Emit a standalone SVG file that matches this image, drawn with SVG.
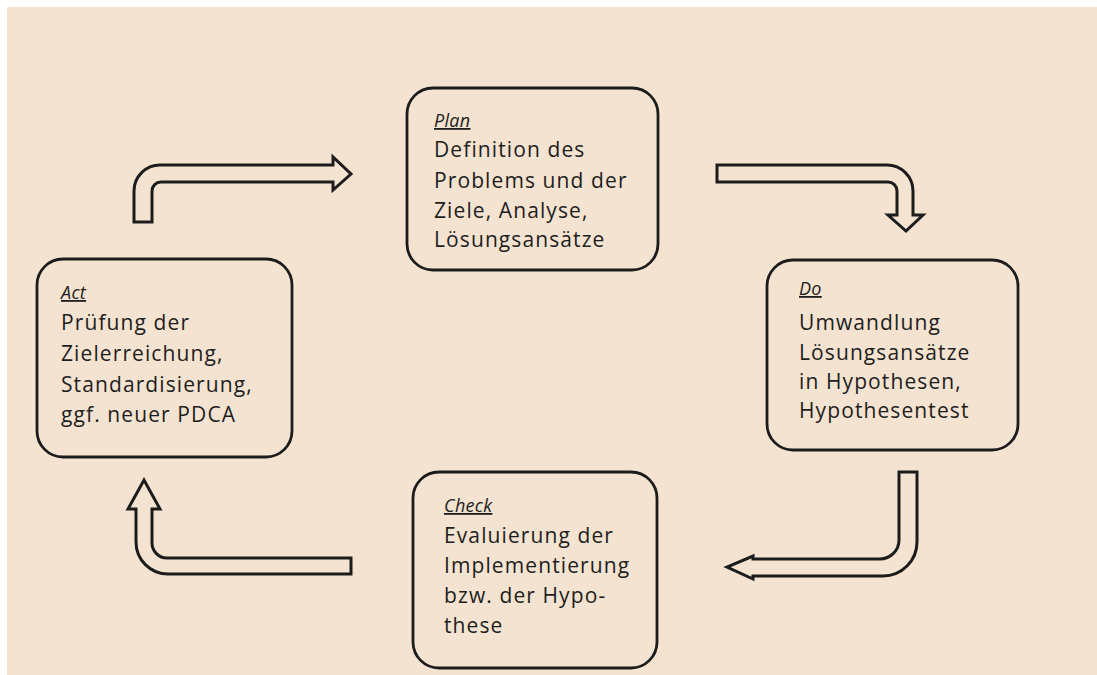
<svg xmlns="http://www.w3.org/2000/svg" width="1097" height="675" viewBox="0 0 1097 675">
<style>
.bg{fill:#f4e3d0}
.box{fill:#f4e3d0;stroke:#1c1c1c;stroke-width:2.8}
.arr{fill:#f4e3d0;stroke:#1c1c1c;stroke-width:3;stroke-linejoin:miter}
text{font-family:"Open Sans","Noto Sans",sans-serif;fill:#1e1e1e;font-size:21px;letter-spacing:1.1px}
.t{font-style:italic;font-size:18px;text-decoration:underline;letter-spacing:0.3px}
</style>
<rect width="1097" height="675" fill="#ffffff"/>
<rect class="bg" x="7" y="7" width="1090" height="668"/>
<g id="connectors">
<path class="arr" d="M134,222 V191 A26,26 0 0 1 160,165 H333 V157 L351,174 L333,190 V182 H161 A9,9 0 0 0 152,191 V222 Z"/>
<path class="arr" d="M717,165 H887 A26,26 0 0 1 913,191 V215 H923 L906,231 L888,215 H897 V191 A9,9 0 0 0 888,182 H717 Z"/>
<path class="arr" d="M899,472 H917 V542 A34,34 0 0 1 883,576 H753 V579 L727,567 L753,556 V559 H880 A19,19 0 0 0 899,540 Z"/>
<path class="arr" d="M351,558 V574 H168 A32,32 0 0 1 136,542 V509 H128 L144,480 L160,509 H152 V543 A15,15 0 0 0 167,558 Z"/>
</g>
<g id="plan">
<rect class="box" x="407" y="88" width="251" height="182" rx="26"/>
<text class="t" x="434" y="127">Plan</text>
<text x="434" y="157">Definition des</text>
<text x="434" y="188">Problems und der</text>
<text x="434" y="218">Ziele, Analyse,</text>
<text x="434" y="247">Lösungsansätze</text>
</g>
<g id="do">
<rect class="box" x="767" y="260" width="251" height="190" rx="26"/>
<text class="t" x="799" y="295">Do</text>
<text x="799" y="330">Umwandlung</text>
<text x="799" y="360">Lösungsansätze</text>
<text x="799" y="389">in Hypothesen,</text>
<text x="799" y="418">Hypothesentest</text>
</g>
<g id="act">
<rect class="box" x="37" y="259" width="255" height="198" rx="26"/>
<text class="t" x="61" y="299">Act</text>
<text x="61" y="330">Prüfung der</text>
<text x="61" y="361">Zielerreichung,</text>
<text x="61" y="392">Standardisierung,</text>
<text x="61" y="422">ggf. neuer PDCA</text>
</g>
<g id="check">
<rect class="box" x="413" y="472" width="244" height="196" rx="26"/>
<text class="t" x="444" y="512">Check</text>
<text x="444" y="543">Evaluierung der</text>
<text x="444" y="573">Implementierung</text>
<text x="444" y="603">bzw. der Hypo-</text>
<text x="444" y="633">these</text>
</g>
</svg>
